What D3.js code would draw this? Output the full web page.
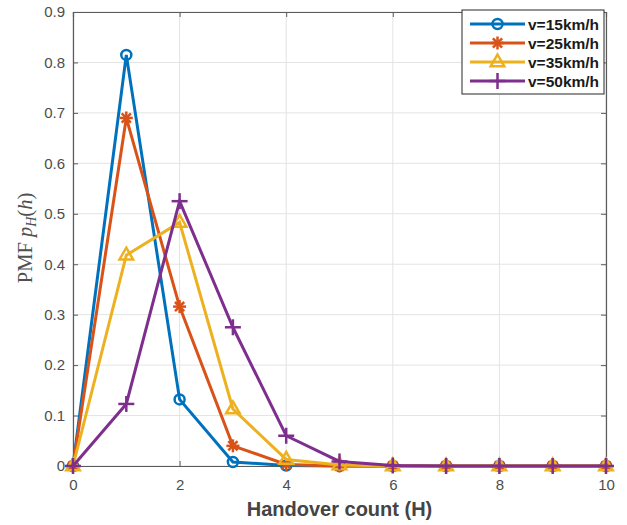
<!DOCTYPE html>
<html><head><meta charset="utf-8">
<script src="https://cdn.jsdelivr.net/npm/d3@7"></script>
<style>body{margin:0;background:#fff}svg{display:block}</style>
</head><body>
<script>
const hValues = [0,1,2,3,4,5,6,7,8,9,10];
const seriesNames = ["v=15km/h","v=25km/h","v=35km/h","v=50km/h"];
const v15 = [0,0.815,0.132,0.008,0.001,0,0,0,0,0,0];
const v25 = [0,0.690,0.316,0.040,0.003,0,0,0,0,0,0];
const v35 = [0,0.418,0.483,0.113,0.013,0.002,0,0,0,0,0];
const v50 = [0,0.123,0.525,0.275,0.060,0.009,0.001,0,0,0,0];
const xTicks = [0,2,4,6,8,10];
const yTicks = [0,0.1,0.2,0.3,0.4,0.5,0.6,0.7,0.8,0.9];
const colors = ["#0072BD","#D95319","#EDB120","#7E2F8E"];
const markers = ["circle","asterisk","triangle","plus"];

const W=627,H=525;
const m={left:73,right:21,top:12,bottom:59};
const svg=d3.select("body").append("svg").attr("width",W).attr("height",H);
const x=d3.scaleLinear().domain([0,10]).range([m.left,W-m.right]);
const y=d3.scaleLinear().domain([0,0.9]).range([H-m.bottom,m.top]);
const axCol="#5a5a5a";

// grid
const g=svg.append("g");
g.selectAll(".gx").data(xTicks).join("line").attr("x1",d=>x(d)).attr("x2",d=>x(d))
 .attr("y1",y(0)).attr("y2",y(0.9)).attr("stroke","#e3e3e3").attr("stroke-width",1);
g.selectAll(".gy").data(yTicks).join("line").attr("y1",d=>y(d)).attr("y2",d=>y(d))
 .attr("x1",x(0)).attr("x2",x(10)).attr("stroke","#e3e3e3").attr("stroke-width",1);

// axes
const fmtY=d=>d===0?"0":d3.format(".1f")(d);
const ax=svg.append("g").attr("transform",`translate(0,${y(0)})`)
 .call(d3.axisBottom(x).tickValues(xTicks).tickSize(-5).tickPadding(13).tickFormat(d3.format("d")));
const ay=svg.append("g").attr("transform",`translate(${x(0)},0)`)
 .call(d3.axisLeft(y).tickValues(yTicks).tickSize(-5).tickPadding(8).tickFormat(fmtY));
const at=svg.append("g").attr("transform",`translate(0,${y(0.9)})`)
 .call(d3.axisTop(x).tickValues(xTicks).tickSize(-5).tickFormat(""));
const ar=svg.append("g").attr("transform",`translate(${x(10)},0)`)
 .call(d3.axisRight(y).tickValues(yTicks).tickSize(-5).tickFormat(""));
[ax,ay,at,ar].forEach(a=>{
  a.select(".domain").attr("stroke",axCol).attr("stroke-width",1.2);
  a.selectAll(".tick line").attr("stroke",axCol).attr("stroke-width",1);
  a.selectAll("text").attr("fill","#4d4d4d").style("font-family","Liberation Sans, Arial, sans-serif").style("font-size","15px");
});

// marker drawer
function drawMarker(sel,type,color,cx,cy){
  const gg=sel.append("g").attr("transform",`translate(${cx},${cy})`)
    .attr("stroke",color).attr("fill","none").attr("stroke-width",2.5);
  if(type==="circle") gg.append("circle").attr("r",5);
  else if(type==="asterisk"){
    const r=6.5;
    for(let a=0;a<4;a++){const t=a*Math.PI/4;
      gg.append("line").attr("x1",-r*Math.cos(t)).attr("y1",-r*Math.sin(t)).attr("x2",r*Math.cos(t)).attr("y2",r*Math.sin(t));}
  } else if(type==="triangle"){
    gg.append("path").attr("d","M0,-7.5L6.8,4.3L-6.8,4.3Z").attr("stroke-linejoin","miter");
  } else if(type==="plus"){
    const r=8;
    gg.append("line").attr("x1",-r).attr("x2",r).attr("y1",0).attr("y2",0);
    gg.append("line").attr("y1",-r).attr("y2",r).attr("x1",0).attr("x2",0);
  }
}

const data=[v15,v25,v35,v50];
const line=d3.line().x((d,i)=>x(hValues[i])).y(d=>y(d));
data.forEach((s,k)=>{
  const sg=svg.append("g");
  sg.append("path").datum(s).attr("d",line).attr("fill","none").attr("stroke",colors[k])
    .attr("stroke-width",3).attr("stroke-linejoin","miter");
  s.forEach((v,i)=>drawMarker(sg,markers[k],colors[k],x(hValues[i]),y(v)));
});

// labels
svg.append("text").attr("x",(x(0)+x(10))/2).attr("y",516).attr("text-anchor","middle")
 .style("font-family","Liberation Sans, Arial, sans-serif").style("font-weight","bold").style("font-size","20px")
 .attr("fill","#444").text("Handover count (H)");
const yl=svg.append("text").attr("transform",`translate(32,238) rotate(-90)`)
 .attr("text-anchor","middle").style("font-family","Liberation Serif, Times New Roman, serif")
 .style("font-size","20.5px").attr("fill","#505050");
yl.append("tspan").text("PMF ");
yl.append("tspan").style("font-style","italic").text("p");
yl.append("tspan").style("font-style","italic").style("font-size","14px").attr("dy",4).text("H");
yl.append("tspan").attr("dy",-4).text("(");
yl.append("tspan").style("font-style","italic").text("h");
yl.append("tspan").text(")");

// legend
const lg=svg.append("g");
lg.append("rect").attr("x",462).attr("y",10).attr("width",142).attr("height",84)
 .attr("fill","#fff").attr("stroke","#262626").attr("stroke-width",1);
seriesNames.forEach((n,k)=>{
  const yy=24+k*19;
  lg.append("line").attr("x1",470).attr("x2",525).attr("y1",yy).attr("y2",yy)
    .attr("stroke",colors[k]).attr("stroke-width",3);
  drawMarker(lg,markers[k],colors[k],497.5,yy);
  lg.append("text").attr("x",528).attr("y",yy+5.5).text(n)
    .style("font-family","Liberation Sans, Arial, sans-serif").style("font-weight","bold").style("font-size","15.5px").attr("fill","#1a1a1a");
});
</script>
</body></html>
